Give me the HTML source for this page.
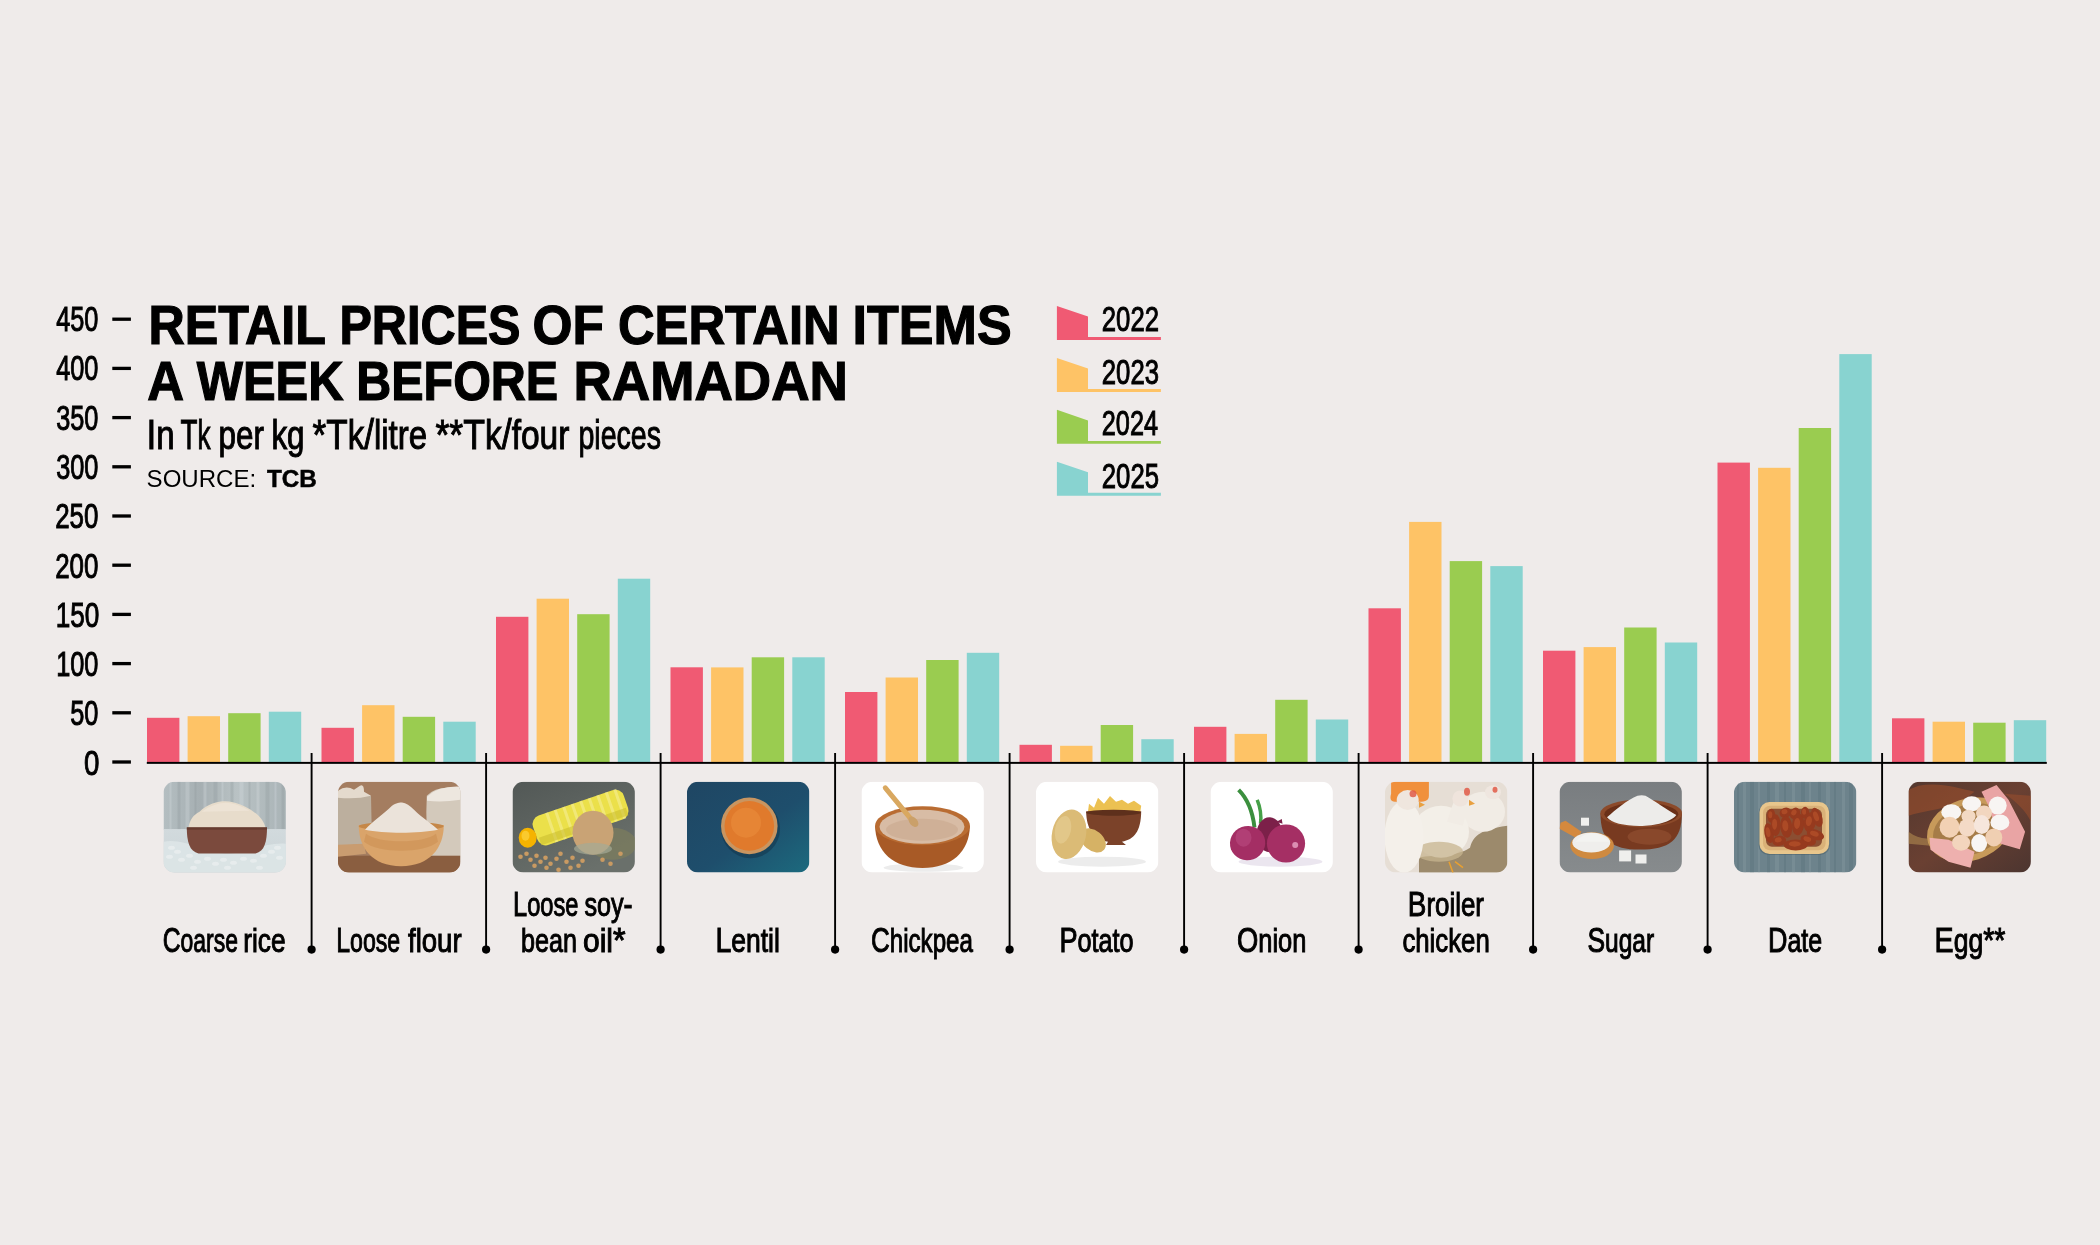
<!DOCTYPE html><html><head><meta charset="utf-8"><title>Retail prices of certain items a week before Ramadan</title><style>
html,body{margin:0;padding:0;background:#efebea;overflow:hidden;}svg{display:block;will-change:transform;}text{font-family:"Liberation Sans", sans-serif;fill:#000;}
</style></head><body>
<svg width="2100" height="1245" viewBox="0 0 2100 1245">
<rect x="0" y="0" width="2100" height="1245" fill="#efebea"/>
<rect x="112.3" y="760.35" width="18.6" height="3.3" fill="#000"/>
<rect x="112.3" y="711.15" width="18.6" height="3.3" fill="#000"/>
<rect x="112.3" y="661.95" width="18.6" height="3.3" fill="#000"/>
<rect x="112.3" y="612.75" width="18.6" height="3.3" fill="#000"/>
<rect x="112.3" y="563.55" width="18.6" height="3.3" fill="#000"/>
<rect x="112.3" y="514.35" width="18.6" height="3.3" fill="#000"/>
<rect x="112.3" y="465.15" width="18.6" height="3.3" fill="#000"/>
<rect x="112.3" y="415.95" width="18.6" height="3.3" fill="#000"/>
<rect x="112.3" y="366.75" width="18.6" height="3.3" fill="#000"/>
<rect x="112.3" y="317.55" width="18.6" height="3.3" fill="#000"/>
<rect x="147.0" y="717.8" width="32.4" height="45.2" fill="#f05a73"/>
<rect x="187.6" y="716.2" width="32.4" height="46.8" fill="#fec366"/>
<rect x="228.2" y="713.2" width="32.4" height="49.8" fill="#9acc50"/>
<rect x="268.8" y="711.7" width="32.4" height="51.3" fill="#88d3d0"/>
<rect x="321.5" y="727.8" width="32.4" height="35.2" fill="#f05a73"/>
<rect x="362.1" y="705.2" width="32.4" height="57.8" fill="#fec366"/>
<rect x="402.7" y="716.8" width="32.4" height="46.2" fill="#9acc50"/>
<rect x="443.3" y="721.7" width="32.4" height="41.3" fill="#88d3d0"/>
<rect x="496.0" y="616.8" width="32.4" height="146.2" fill="#f05a73"/>
<rect x="536.6" y="598.7" width="32.4" height="164.3" fill="#fec366"/>
<rect x="577.2" y="614.2" width="32.4" height="148.8" fill="#9acc50"/>
<rect x="617.8" y="578.7" width="32.4" height="184.3" fill="#88d3d0"/>
<rect x="670.5" y="667.3" width="32.4" height="95.7" fill="#f05a73"/>
<rect x="711.1" y="667.4" width="32.4" height="95.6" fill="#fec366"/>
<rect x="751.7" y="657.3" width="32.4" height="105.7" fill="#9acc50"/>
<rect x="792.3" y="657.3" width="32.4" height="105.7" fill="#88d3d0"/>
<rect x="845.0" y="692.0" width="32.4" height="71.0" fill="#f05a73"/>
<rect x="885.6" y="677.5" width="32.4" height="85.5" fill="#fec366"/>
<rect x="926.2" y="660.0" width="32.4" height="103.0" fill="#9acc50"/>
<rect x="966.8" y="652.8" width="32.4" height="110.2" fill="#88d3d0"/>
<rect x="1019.5" y="744.8" width="32.4" height="18.2" fill="#f05a73"/>
<rect x="1060.1" y="745.8" width="32.4" height="17.2" fill="#fec366"/>
<rect x="1100.7" y="725.0" width="32.4" height="38.0" fill="#9acc50"/>
<rect x="1141.3" y="739.2" width="32.4" height="23.8" fill="#88d3d0"/>
<rect x="1194.0" y="726.8" width="32.4" height="36.2" fill="#f05a73"/>
<rect x="1234.6" y="733.9" width="32.4" height="29.1" fill="#fec366"/>
<rect x="1275.2" y="699.8" width="32.4" height="63.2" fill="#9acc50"/>
<rect x="1315.8" y="719.5" width="32.4" height="43.5" fill="#88d3d0"/>
<rect x="1368.5" y="608.3" width="32.4" height="154.7" fill="#f05a73"/>
<rect x="1409.1" y="521.9" width="32.4" height="241.1" fill="#fec366"/>
<rect x="1449.7" y="561.1" width="32.4" height="201.9" fill="#9acc50"/>
<rect x="1490.3" y="566.1" width="32.4" height="196.9" fill="#88d3d0"/>
<rect x="1543.0" y="650.7" width="32.4" height="112.3" fill="#f05a73"/>
<rect x="1583.6" y="647.1" width="32.4" height="115.9" fill="#fec366"/>
<rect x="1624.2" y="627.5" width="32.4" height="135.5" fill="#9acc50"/>
<rect x="1664.8" y="642.5" width="32.4" height="120.5" fill="#88d3d0"/>
<rect x="1717.5" y="462.6" width="32.4" height="300.4" fill="#f05a73"/>
<rect x="1758.1" y="467.8" width="32.4" height="295.2" fill="#fec366"/>
<rect x="1798.7" y="428.0" width="32.4" height="335.0" fill="#9acc50"/>
<rect x="1839.3" y="354.1" width="32.4" height="408.9" fill="#88d3d0"/>
<rect x="1892.0" y="718.3" width="32.4" height="44.7" fill="#f05a73"/>
<rect x="1932.6" y="721.7" width="32.4" height="41.3" fill="#fec366"/>
<rect x="1973.2" y="722.7" width="32.4" height="40.3" fill="#9acc50"/>
<rect x="2013.8" y="720.2" width="32.4" height="42.8" fill="#88d3d0"/>
<rect x="146.8" y="761.9" width="1900" height="1.95" fill="#000"/>
<rect x="310.65" y="753" width="1.9" height="196" fill="#000"/>
<circle cx="311.6" cy="949.6" r="4.1" fill="#000"/>
<rect x="485.15" y="753" width="1.9" height="196" fill="#000"/>
<circle cx="486.1" cy="949.6" r="4.1" fill="#000"/>
<rect x="659.65" y="753" width="1.9" height="196" fill="#000"/>
<circle cx="660.6" cy="949.6" r="4.1" fill="#000"/>
<rect x="834.15" y="753" width="1.9" height="196" fill="#000"/>
<circle cx="835.1" cy="949.6" r="4.1" fill="#000"/>
<rect x="1008.65" y="753" width="1.9" height="196" fill="#000"/>
<circle cx="1009.6" cy="949.6" r="4.1" fill="#000"/>
<rect x="1183.15" y="753" width="1.9" height="196" fill="#000"/>
<circle cx="1184.1" cy="949.6" r="4.1" fill="#000"/>
<rect x="1357.65" y="753" width="1.9" height="196" fill="#000"/>
<circle cx="1358.6" cy="949.6" r="4.1" fill="#000"/>
<rect x="1532.15" y="753" width="1.9" height="196" fill="#000"/>
<circle cx="1533.1" cy="949.6" r="4.1" fill="#000"/>
<rect x="1706.65" y="753" width="1.9" height="196" fill="#000"/>
<circle cx="1707.6" cy="949.6" r="4.1" fill="#000"/>
<rect x="1881.15" y="753" width="1.9" height="196" fill="#000"/>
<circle cx="1882.1" cy="949.6" r="4.1" fill="#000"/>
<polygon points="1056.9,306.0 1088,316.6 1088,337.1 1160.9,337.1 1160.9,340.0 1056.9,340.0" fill="#f05a73"/>
<polygon points="1056.9,357.9 1088,368.5 1088,389.0 1160.9,389.0 1160.9,391.9 1056.9,391.9" fill="#fec366"/>
<polygon points="1056.9,409.8 1088,420.4 1088,440.9 1160.9,440.9 1160.9,443.8 1056.9,443.8" fill="#9acc50"/>
<polygon points="1056.9,461.7 1088,472.3 1088,492.8 1160.9,492.8 1160.9,495.7 1056.9,495.7" fill="#88d3d0"/>
<text x="84.00" y="774.5" font-size="35.5" textLength="15.40" lengthAdjust="spacingAndGlyphs" stroke="#000" stroke-width="1.00">0</text>
<text x="70.20" y="725.3" font-size="35.5" textLength="28.20" lengthAdjust="spacingAndGlyphs" stroke="#000" stroke-width="1.00">50</text>
<text x="56.20" y="676.0" font-size="35.5" textLength="42.20" lengthAdjust="spacingAndGlyphs" stroke="#000" stroke-width="1.00">100</text>
<text x="55.80" y="626.7" font-size="35.5" textLength="43.60" lengthAdjust="spacingAndGlyphs" stroke="#000" stroke-width="1.00">150</text>
<text x="55.20" y="577.5" font-size="35.5" textLength="43.20" lengthAdjust="spacingAndGlyphs" stroke="#000" stroke-width="1.00">200</text>
<text x="55.20" y="528.2" font-size="35.5" textLength="43.20" lengthAdjust="spacingAndGlyphs" stroke="#000" stroke-width="1.00">250</text>
<text x="56.20" y="478.9" font-size="35.5" textLength="42.20" lengthAdjust="spacingAndGlyphs" stroke="#000" stroke-width="1.00">300</text>
<text x="56.20" y="429.6" font-size="35.5" textLength="42.20" lengthAdjust="spacingAndGlyphs" stroke="#000" stroke-width="1.00">350</text>
<text x="56.20" y="380.4" font-size="35.5" textLength="42.20" lengthAdjust="spacingAndGlyphs" stroke="#000" stroke-width="1.00">400</text>
<text x="56.20" y="331.1" font-size="35.5" textLength="42.20" lengthAdjust="spacingAndGlyphs" stroke="#000" stroke-width="1.00">450</text>
<text x="148.40" y="343.6" font-size="54.8" textLength="177.60" lengthAdjust="spacingAndGlyphs" font-weight="bold" stroke="#000" stroke-width="1.20">RETAIL</text>
<text x="339.40" y="343.6" font-size="54.8" textLength="181.20" lengthAdjust="spacingAndGlyphs" font-weight="bold" stroke="#000" stroke-width="1.20">PRICES</text>
<text x="532.40" y="343.6" font-size="54.8" textLength="71.40" lengthAdjust="spacingAndGlyphs" font-weight="bold" stroke="#000" stroke-width="1.20">OF</text>
<text x="618.00" y="343.6" font-size="54.8" textLength="221.60" lengthAdjust="spacingAndGlyphs" font-weight="bold" stroke="#000" stroke-width="1.20">CERTAIN</text>
<text x="852.60" y="343.6" font-size="54.8" textLength="159.00" lengthAdjust="spacingAndGlyphs" font-weight="bold" stroke="#000" stroke-width="1.20">ITEMS</text>
<text x="147.20" y="400.3" font-size="54.8" textLength="36.80" lengthAdjust="spacingAndGlyphs" font-weight="bold" stroke="#000" stroke-width="1.20">A</text>
<text x="196.80" y="400.3" font-size="54.8" textLength="146.80" lengthAdjust="spacingAndGlyphs" font-weight="bold" stroke="#000" stroke-width="1.20">WEEK</text>
<text x="356.20" y="400.3" font-size="54.8" textLength="202.00" lengthAdjust="spacingAndGlyphs" font-weight="bold" stroke="#000" stroke-width="1.20">BEFORE</text>
<text x="573.40" y="400.3" font-size="54.8" textLength="274.60" lengthAdjust="spacingAndGlyphs" font-weight="bold" stroke="#000" stroke-width="1.20">RAMADAN</text>
<text x="146.40" y="449.2" font-size="43.0" textLength="28.20" lengthAdjust="spacingAndGlyphs" stroke="#000" stroke-width="1.00">I<tspan font-size="40.42">n</tspan></text>
<text x="180.60" y="449.2" font-size="43.0" textLength="30.00" lengthAdjust="spacingAndGlyphs" stroke="#000" stroke-width="1.00">T<tspan font-size="40.42">k</tspan></text>
<text x="218.60" y="449.2" font-size="43.0" textLength="45.40" lengthAdjust="spacingAndGlyphs" stroke="#000" stroke-width="1.00"><tspan font-size="40.42">per</tspan></text>
<text x="271.40" y="449.2" font-size="43.0" textLength="33.20" lengthAdjust="spacingAndGlyphs" stroke="#000" stroke-width="1.00"><tspan font-size="40.42">kg</tspan></text>
<text x="312.60" y="449.2" font-size="43.0" textLength="114.40" lengthAdjust="spacingAndGlyphs" stroke="#000" stroke-width="1.00">*T<tspan font-size="40.42">k</tspan>/<tspan font-size="40.42">litre</tspan></text>
<text x="435.40" y="449.2" font-size="43.0" textLength="134.00" lengthAdjust="spacingAndGlyphs" stroke="#000" stroke-width="1.00">**T<tspan font-size="40.42">k</tspan>/<tspan font-size="40.42">four</tspan></text>
<text x="578.40" y="449.2" font-size="43.0" textLength="82.60" lengthAdjust="spacingAndGlyphs" stroke="#000" stroke-width="1.00"><tspan font-size="40.42">pieces</tspan></text>
<text x="146.60" y="486.6" font-size="23.5" textLength="109.60" lengthAdjust="spacingAndGlyphs">SOURCE:</text>
<text x="267.00" y="486.6" font-size="23.5" textLength="49.80" lengthAdjust="spacingAndGlyphs" font-weight="bold" stroke="#000" stroke-width="0.50">TCB</text>
<text x="1101.80" y="331.4" font-size="35.0" textLength="57.20" lengthAdjust="spacingAndGlyphs" stroke="#000" stroke-width="1.00">2022</text>
<text x="1101.80" y="383.7" font-size="35.0" textLength="57.20" lengthAdjust="spacingAndGlyphs" stroke="#000" stroke-width="1.00">2023</text>
<text x="1101.80" y="435.3" font-size="35.0" textLength="56.20" lengthAdjust="spacingAndGlyphs" stroke="#000" stroke-width="1.00">2024</text>
<text x="1101.80" y="487.5" font-size="35.0" textLength="57.20" lengthAdjust="spacingAndGlyphs" stroke="#000" stroke-width="1.00">2025</text>
<text x="162.80" y="952.4" font-size="34.8" textLength="75.20" lengthAdjust="spacingAndGlyphs" stroke="#000" stroke-width="1.00">C<tspan font-size="32.36">oarse</tspan></text>
<text x="243.20" y="952.4" font-size="34.8" textLength="42.40" lengthAdjust="spacingAndGlyphs" stroke="#000" stroke-width="1.00"><tspan font-size="32.36">rice</tspan></text>
<text x="336.20" y="952.4" font-size="34.8" textLength="64.00" lengthAdjust="spacingAndGlyphs" stroke="#000" stroke-width="1.00">L<tspan font-size="32.36">oose</tspan></text>
<text x="408.00" y="952.4" font-size="34.8" textLength="53.60" lengthAdjust="spacingAndGlyphs" stroke="#000" stroke-width="1.00"><tspan font-size="32.36">flour</tspan></text>
<text x="513.00" y="915.8" font-size="34.8" textLength="65.40" lengthAdjust="spacingAndGlyphs" stroke="#000" stroke-width="1.00">L<tspan font-size="32.36">oose</tspan></text>
<text x="584.40" y="915.8" font-size="34.8" textLength="48.20" lengthAdjust="spacingAndGlyphs" stroke="#000" stroke-width="1.00"><tspan font-size="32.36">soy</tspan>-</text>
<text x="521.00" y="952.4" font-size="34.8" textLength="56.00" lengthAdjust="spacingAndGlyphs" stroke="#000" stroke-width="1.00"><tspan font-size="32.36">bean</tspan></text>
<text x="583.00" y="952.4" font-size="34.8" textLength="42.60" lengthAdjust="spacingAndGlyphs" stroke="#000" stroke-width="1.00"><tspan font-size="32.36">oil</tspan>*</text>
<text x="715.40" y="952.4" font-size="34.8" textLength="64.40" lengthAdjust="spacingAndGlyphs" stroke="#000" stroke-width="1.00">L<tspan font-size="32.36">entil</tspan></text>
<text x="871.00" y="952.4" font-size="34.8" textLength="102.00" lengthAdjust="spacingAndGlyphs" stroke="#000" stroke-width="1.00">C<tspan font-size="32.36">hickpea</tspan></text>
<text x="1059.40" y="952.4" font-size="34.8" textLength="74.20" lengthAdjust="spacingAndGlyphs" stroke="#000" stroke-width="1.00">P<tspan font-size="32.36">otato</tspan></text>
<text x="1237.00" y="952.4" font-size="34.8" textLength="69.40" lengthAdjust="spacingAndGlyphs" stroke="#000" stroke-width="1.00">O<tspan font-size="32.36">nion</tspan></text>
<text x="1407.80" y="915.8" font-size="34.8" textLength="76.20" lengthAdjust="spacingAndGlyphs" stroke="#000" stroke-width="1.00">B<tspan font-size="32.36">roiler</tspan></text>
<text x="1402.40" y="952.4" font-size="34.8" textLength="87.40" lengthAdjust="spacingAndGlyphs" stroke="#000" stroke-width="1.00"><tspan font-size="32.36">chicken</tspan></text>
<text x="1587.40" y="952.4" font-size="34.8" textLength="66.80" lengthAdjust="spacingAndGlyphs" stroke="#000" stroke-width="1.00">S<tspan font-size="32.36">ugar</tspan></text>
<text x="1768.00" y="952.4" font-size="34.8" textLength="54.20" lengthAdjust="spacingAndGlyphs" stroke="#000" stroke-width="1.00">D<tspan font-size="32.36">ate</tspan></text>
<text x="1934.60" y="952.4" font-size="34.8" textLength="70.80" lengthAdjust="spacingAndGlyphs" stroke="#000" stroke-width="1.00">E<tspan font-size="32.36">gg</tspan>**</text>
<defs>
<clipPath id="c0"><rect x="163.5" y="781.7" width="122.4" height="90.8" rx="11" ry="11"/></clipPath>
<clipPath id="c1"><rect x="338.0" y="781.7" width="122.4" height="90.8" rx="11" ry="11"/></clipPath>
<clipPath id="c2"><rect x="512.5" y="781.7" width="122.4" height="90.8" rx="11" ry="11"/></clipPath>
<clipPath id="c3"><rect x="687.0" y="781.7" width="122.4" height="90.8" rx="11" ry="11"/></clipPath>
<clipPath id="c4"><rect x="861.5" y="781.7" width="122.4" height="90.8" rx="11" ry="11"/></clipPath>
<clipPath id="c5"><rect x="1036.0" y="781.7" width="122.4" height="90.8" rx="11" ry="11"/></clipPath>
<clipPath id="c6"><rect x="1210.5" y="781.7" width="122.4" height="90.8" rx="11" ry="11"/></clipPath>
<clipPath id="c7"><rect x="1385.0" y="781.7" width="122.4" height="90.8" rx="11" ry="11"/></clipPath>
<clipPath id="c8"><rect x="1559.5" y="781.7" width="122.4" height="90.8" rx="11" ry="11"/></clipPath>
<clipPath id="c9"><rect x="1734.0" y="781.7" width="122.4" height="90.8" rx="11" ry="11"/></clipPath>
<clipPath id="c10"><rect x="1908.5" y="781.7" width="122.4" height="90.8" rx="11" ry="11"/></clipPath>
</defs>
<g clip-path="url(#c0)"><g transform="translate(163.5,781.7)"><defs><linearGradient id="g0a" x1="0" y1="0" x2="1" y2="0"><stop offset="0" stop-color="#b4bec1"/><stop offset="0.3" stop-color="#a6afb2"/><stop offset="0.6" stop-color="#b9c2c4"/><stop offset="1" stop-color="#aab4b7"/></linearGradient><linearGradient id="g0b" x1="0" y1="0" x2="0" y2="1"><stop offset="0" stop-color="#d2dadd"/><stop offset="1" stop-color="#c9d3d6"/></linearGradient></defs><rect x="0" y="0" width="122.4" height="48" fill="url(#g0a)" /><rect x="0" y="47.4" width="122.4" height="44" fill="url(#g0b)" /><rect x="6" y="0" width="2" height="47.4" fill="#d8dfe2" opacity="0.3"/><rect x="14" y="0" width="3" height="47.4" fill="#8e989b" opacity="0.3"/><rect x="22" y="0" width="4" height="47.4" fill="#d8dfe2" opacity="0.3"/><rect x="31" y="0" width="2" height="47.4" fill="#8e989b" opacity="0.3"/><rect x="40" y="0" width="3" height="47.4" fill="#d8dfe2" opacity="0.3"/><rect x="50" y="0" width="4" height="47.4" fill="#8e989b" opacity="0.3"/><rect x="58" y="0" width="2" height="47.4" fill="#d8dfe2" opacity="0.3"/><rect x="67" y="0" width="3" height="47.4" fill="#8e989b" opacity="0.3"/><rect x="76" y="0" width="4" height="47.4" fill="#d8dfe2" opacity="0.3"/><rect x="85" y="0" width="2" height="47.4" fill="#8e989b" opacity="0.3"/><rect x="93" y="0" width="3" height="47.4" fill="#d8dfe2" opacity="0.3"/><rect x="102" y="0" width="4" height="47.4" fill="#8e989b" opacity="0.3"/><rect x="111" y="0" width="2" height="47.4" fill="#d8dfe2" opacity="0.3"/><rect x="118" y="0" width="3" height="47.4" fill="#8e989b" opacity="0.3"/><path d="M0,60 C20,56 40,70 60,72 C80,74 100,60 122.4,62 L122.4,90.8 L0,90.8 Z" fill="#dde5e7" opacity="0.9"/><ellipse cx="8" cy="66" rx="3.5" ry="2" fill="#eef2f2" opacity="0.6"/><ellipse cx="14" cy="70" rx="3.5" ry="2" fill="#eef2f2" opacity="0.6"/><ellipse cx="6" cy="75" rx="3.5" ry="2" fill="#eef2f2" opacity="0.6"/><ellipse cx="18" cy="78" rx="3.5" ry="2" fill="#eef2f2" opacity="0.6"/><ellipse cx="26" cy="74" rx="3.5" ry="2" fill="#eef2f2" opacity="0.6"/><ellipse cx="34" cy="80" rx="3.5" ry="2" fill="#eef2f2" opacity="0.6"/><ellipse cx="44" cy="77" rx="3.5" ry="2" fill="#eef2f2" opacity="0.6"/><ellipse cx="52" cy="82" rx="3.5" ry="2" fill="#eef2f2" opacity="0.6"/><ellipse cx="60" cy="78" rx="3.5" ry="2" fill="#eef2f2" opacity="0.6"/><ellipse cx="70" cy="81" rx="3.5" ry="2" fill="#eef2f2" opacity="0.6"/><ellipse cx="80" cy="77" rx="3.5" ry="2" fill="#eef2f2" opacity="0.6"/><ellipse cx="90" cy="79" rx="3.5" ry="2" fill="#eef2f2" opacity="0.6"/><ellipse cx="100" cy="74" rx="3.5" ry="2" fill="#eef2f2" opacity="0.6"/><ellipse cx="108" cy="70" rx="3.5" ry="2" fill="#eef2f2" opacity="0.6"/><ellipse cx="114" cy="66" rx="3.5" ry="2" fill="#eef2f2" opacity="0.6"/><ellipse cx="116" cy="76" rx="3.5" ry="2" fill="#eef2f2" opacity="0.6"/><ellipse cx="30" cy="86" rx="3.5" ry="2" fill="#eef2f2" opacity="0.6"/><ellipse cx="64" cy="86" rx="3.5" ry="2" fill="#eef2f2" opacity="0.6"/><ellipse cx="96" cy="86" rx="3.5" ry="2" fill="#eef2f2" opacity="0.6"/><path d="M24.8,47 C26,38 30,33 36,30 C44,22 54,19.5 62,19.5 C72,20 82,24 90,30 C96,34 101,40 102.3,47 Z" fill="#e7dccb"/><path d="M38,30 C46,24 56,21 62,21 C70,21 80,25 86,29 Z" fill="#efe6d8" opacity="0.7"/><path d="M23.3,45.9 L103.5,45.9 C103.5,60 101,70 92,71.8 L35,71.8 C26,70 23.3,60 23.3,45.9 Z" fill="#7b4a3d"/><rect x="23.3" y="45.4" width="80.2" height="2.6" fill="#5e3429" opacity="0.7"/></g></g>
<g clip-path="url(#c1)"><g transform="translate(338.0,781.7)"><rect x="0" y="0" width="122.4" height="90.8" fill="#a47d60" /><path d="M0,12 L33,14 L34,62 L0,64 Z" fill="#bcaf9e"/><path d="M0,9 Q8,3 16,8 L22,4 Q26,2 26,10 L33,14 Q18,18 0,16 Z" fill="#e4dacd"/><path d="M88.8,14 Q96,6 110,6 L122.4,5 L122.4,76 L92,75 Q87,48 88.8,14 Z" fill="#d3c9bb"/><path d="M89,15 Q100,4 122.4,5 L122.4,18 Q104,21 89,19 Z" fill="#ede7df"/><rect x="0" y="74" width="122.4" height="17" fill="#8a5e40" /><path d="M0,63 L26,62 L28,72 L0,75 Z" fill="#c99c70"/><path d="M20.7,43.4 L105.8,43.4 C105.8,66 92,84.6 63,84.6 C34,84.6 20.7,66 20.7,43.4 Z" fill="#daa46a"/><path d="M28,52 C40,62 86,62 98,52 L100,60 C86,72 40,72 26,60 Z" fill="#c88a4c" opacity="0.45"/><ellipse cx="63.2" cy="44.5" rx="42.5" ry="4.5" fill="#c58748" /><path d="M27,48 C34,40 46,32 54,24 C58,21 62,20.7 64,20.7 C68,21 72,24 76,28 C84,36 94,42 100,48 C80,52 46,52 27,48 Z" fill="#ebe3da"/></g></g>
<g clip-path="url(#c2)"><g transform="translate(512.5,781.7)"><defs><linearGradient id="g2a" x1="0" y1="0" x2="0.6" y2="1"><stop offset="0" stop-color="#525856"/><stop offset="1" stop-color="#6a706b"/></linearGradient></defs><rect x="0" y="0" width="122.4" height="90.8" fill="url(#g2a)" /><ellipse cx="100" cy="62" rx="24" ry="16" fill="#7d7d5c" opacity="0.7"/><g transform="translate(66,36) rotate(-19)"><rect x="-46" y="-15" width="96" height="31" rx="9" fill="#ebe04a"/><rect x="-30" y="-15" width="3" height="31" fill="#f6ef9c" opacity="0.55"/><rect x="-21" y="-15" width="3" height="31" fill="#f6ef9c" opacity="0.55"/><rect x="-12" y="-15" width="3" height="31" fill="#f6ef9c" opacity="0.55"/><rect x="-3" y="-15" width="3" height="31" fill="#f6ef9c" opacity="0.55"/><rect x="6" y="-15" width="3" height="31" fill="#f6ef9c" opacity="0.55"/><rect x="15" y="-15" width="3" height="31" fill="#f6ef9c" opacity="0.55"/><rect x="24" y="-15" width="3" height="31" fill="#f6ef9c" opacity="0.55"/><rect x="33" y="-15" width="3" height="31" fill="#f6ef9c" opacity="0.55"/><rect x="42" y="-15" width="3" height="31" fill="#f6ef9c" opacity="0.55"/><rect x="-44" y="6" width="92" height="8" fill="#c9bb2e" opacity="0.55"/></g><ellipse cx="15.2" cy="56.1" rx="9" ry="10" fill="#f5b300" /><ellipse cx="13" cy="54" rx="4" ry="5" fill="#fbcf3a" opacity="0.8"/><ellipse cx="80.5" cy="51" rx="20.5" ry="22" fill="#c9a375" /><ellipse cx="80.5" cy="67" rx="19" ry="6" fill="#a4aa96" opacity="0.7"/><circle cx="8" cy="75" r="2.3" fill="#c99a62"/><circle cx="14" cy="72" r="2.3" fill="#c99a62"/><circle cx="18" cy="78" r="2.3" fill="#c99a62"/><circle cx="24" cy="74" r="2.3" fill="#c99a62"/><circle cx="28" cy="80" r="2.3" fill="#c99a62"/><circle cx="33" cy="76" r="2.3" fill="#c99a62"/><circle cx="38" cy="82" r="2.3" fill="#c99a62"/><circle cx="44" cy="77" r="2.3" fill="#c99a62"/><circle cx="48" cy="72" r="2.3" fill="#c99a62"/><circle cx="54" cy="80" r="2.3" fill="#c99a62"/><circle cx="60" cy="76" r="2.3" fill="#c99a62"/><circle cx="58" cy="86" r="2.3" fill="#c99a62"/><circle cx="66" cy="84" r="2.3" fill="#c99a62"/><circle cx="70" cy="79" r="2.3" fill="#c99a62"/><circle cx="34" cy="86" r="2.3" fill="#c99a62"/><circle cx="22" cy="84" r="2.3" fill="#c99a62"/><circle cx="90" cy="78" r="2.3" fill="#c99a62"/><circle cx="98" cy="82" r="2.3" fill="#c99a62"/><circle cx="108" cy="72" r="2.3" fill="#c99a62"/><circle cx="46" cy="88" r="2.3" fill="#c99a62"/></g></g>
<g clip-path="url(#c3)"><g transform="translate(687.0,781.7)"><defs><linearGradient id="g3a" x1="0" y1="0" x2="1" y2="1"><stop offset="0" stop-color="#1f4663"/><stop offset="0.55" stop-color="#1e4e6c"/><stop offset="1" stop-color="#1c6a7e"/></linearGradient></defs><rect x="0" y="0" width="122.4" height="90.8" fill="url(#g3a)" /><circle cx="63.5" cy="47" r="29.5" fill="#13344a" opacity="0.55"/><circle cx="62.3" cy="44.2" r="28.3" fill="#c99560"/><circle cx="62.3" cy="44.2" r="24.8" fill="#e07a2c"/><circle cx="59" cy="41" r="15" fill="#e98c3c" opacity="0.6"/></g></g>
<g clip-path="url(#c4)"><g transform="translate(861.5,781.7)"><rect x="0" y="0" width="122.4" height="90.8" fill="#ffffff" /><ellipse cx="62" cy="86" rx="40" ry="4" fill="#ececec" /><path d="M13.6,44 C14,70 32,86.3 61,86.3 C90,86.3 108,70 108.4,44 Z" fill="#a85a26"/><ellipse cx="61" cy="44" rx="47.4" ry="19.5" fill="#b96c32" /><ellipse cx="60.5" cy="45" rx="42.5" ry="17" fill="#d8bca5" /><ellipse cx="60.5" cy="48" rx="36" ry="11" fill="#c9a88e" opacity="0.6"/><line x1="23.8" y1="6.1" x2="50" y2="38" stroke="#d9a860" stroke-width="5" stroke-linecap="round"/><ellipse cx="52" cy="40" rx="6" ry="4" fill="#caa06a" transform="rotate(50 52 40)" /></g></g>
<g clip-path="url(#c5)"><g transform="translate(1036.0,781.7)"><rect x="0" y="0" width="122.4" height="90.8" fill="#ffffff" /><ellipse cx="66" cy="80" rx="44" ry="5" fill="#ececec" /><path d="M51.7,32 L53,22 L58,26 L62,16 L68,22 L74,14.4 L80,20 L86,18 L92,22 L98,19 L105.2,24 L104,32 Z" fill="#ecc152"/><path d="M50.1,29.6 L105.2,29.6 C105,50 98,58 86,60 L90,63.2 L70,63.2 L72,60 C58,58 50.5,48 50.1,29.6 Z" fill="#7b4229"/><ellipse cx="77.6" cy="31" rx="27.5" ry="3" fill="#5e301c" /><ellipse cx="57" cy="58.7" rx="14.5" ry="10" fill="#d6b265" transform="rotate(40 57 58.7)" /><ellipse cx="33" cy="52.5" rx="17" ry="25" fill="#dbbb76" transform="rotate(12 33 52.5)" /><ellipse cx="27" cy="48" rx="8" ry="14" fill="#e6cc92" transform="rotate(12 27 48)" opacity="0.7"/></g></g>
<g clip-path="url(#c6)"><g transform="translate(1210.5,781.7)"><rect x="0" y="0" width="122.4" height="90.8" fill="#ffffff" /><ellipse cx="70" cy="80" rx="42" ry="5" fill="#ebe6ef" /><path d="M28.1,8.1 C36,16 42,28 44,45.7" stroke="#3b8f3e" stroke-width="4" fill="none"/><path d="M46.7,18.1 C50,26 51,34 50,42" stroke="#46a048" stroke-width="3.5" fill="none"/><ellipse cx="59" cy="53" rx="13" ry="17.5" fill="#7c2049" /><path d="M66,40 L71.3,37.2 L72,42 Z" fill="#7c2049"/><ellipse cx="37.1" cy="61.4" rx="17.7" ry="17.1" fill="#a42e64" transform="rotate(-20 37.1 61.4)" /><ellipse cx="75.5" cy="61.8" rx="19.1" ry="19.1" fill="#a52f64" /><ellipse cx="33" cy="56" rx="8" ry="9" fill="#c0548a" opacity="0.45"/><ellipse cx="84.7" cy="63.2" rx="3" ry="3" fill="#e9a6c6" opacity="0.8"/></g></g>
<g clip-path="url(#c7)"><g transform="translate(1385.0,781.7)"><rect x="0" y="0" width="122.4" height="90.8" fill="#e6ded5" /><path d="M34,91 L34,76 C50,72 70,76 85,66 C88,56 92,48 122.4,44 L122.4,91 Z" fill="#9c8a6c"/><path d="M6.1,0 L43.9,0 L43.9,14 C44,20 38,20 32,20 L10,20 C5,20 5,16 6.1,12 Z" fill="#f0903c"/><ellipse cx="98" cy="30" rx="22" ry="20" fill="#f1ece5" /><ellipse cx="108" cy="10.5" rx="8" ry="7" fill="#efe6df" /><ellipse cx="56" cy="50" rx="28" ry="26" fill="#f3efe8" /><ellipse cx="54" cy="70" rx="24" ry="10" fill="#c7b48f" opacity="0.75"/><path d="M62,40 C66,28 68,18 75,12 L84,16 C84,26 80,34 78,44 Z" fill="#f1ece5"/><ellipse cx="75.4" cy="16.8" rx="8" ry="8" fill="#efe4dc" /><ellipse cx="19" cy="55" rx="19.5" ry="36" fill="#f4f0ea" /><ellipse cx="22.7" cy="18.3" rx="11" ry="10" fill="#efe6de" /><ellipse cx="28" cy="12" rx="3.5" ry="3.5" fill="#e05a48" opacity="0.85"/><ellipse cx="82" cy="10" rx="3" ry="4" fill="#e05a48" opacity="0.85"/><ellipse cx="110" cy="8" rx="2.5" ry="3" fill="#e05a48" opacity="0.85"/><path d="M34,20 L40,23 L34,26 Z" fill="#e8a040"/><path d="M84,18 L90,22 L84,24 Z" fill="#e8a040"/><path d="M64,80 L68,91 M70,80 L78,86" stroke="#e8a030" stroke-width="1.5"/></g></g>
<g clip-path="url(#c8)"><g transform="translate(1559.5,781.7)"><defs><linearGradient id="g8a" x1="0" y1="0" x2="0" y2="1"><stop offset="0" stop-color="#797d80"/><stop offset="1" stop-color="#878b8d"/></linearGradient></defs><rect x="0" y="0" width="122.4" height="90.8" fill="url(#g8a)" /><path d="M41,31.7 C41,58 52,67.9 80,67.9 C110,67.9 122.4,58 122.4,31.7 Z" fill="#783a20"/><ellipse cx="90" cy="55" rx="22" ry="8" fill="#9a5636" opacity="0.5"/><ellipse cx="81.8" cy="31.7" rx="41" ry="14" fill="#8c4a2a" /><ellipse cx="81.8" cy="32.5" rx="37" ry="11.5" fill="#6a3018" /><path d="M47.5,35.6 C56,28 68,18 78,14 L82.2,13.6 L86,14 C96,20 108,28 116.8,33.3 C112,40 96,44.3 80,44.3 C64,44.3 52,41 47.5,35.6 Z" fill="#edecea"/><path d="M1.1,41 L6,39 L22,50 L18,57 L0,47 Z" fill="#d4893e"/><ellipse cx="32.6" cy="64" rx="21.8" ry="13.4" fill="#cf8a40" /><ellipse cx="31.8" cy="60.8" rx="19" ry="10" fill="#efeeec" /><path d="M16,60 C22,54 28,51.4 33.4,51.4 C40,52 46,56 50,60 Z" fill="#f3f3f1"/><rect x="21.5" y="36" width="8" height="8" fill="#f0f0ee"/><rect x="59.6" y="68.7" width="12" height="11" fill="#efefed"/><rect x="76" y="72.8" width="11" height="9" fill="#efefed"/></g></g>
<g clip-path="url(#c9)"><g transform="translate(1734.0,781.7)"><rect x="0" y="0" width="122.4" height="90.8" fill="#6d838c" /><rect x="3" y="0" width="2" height="91" fill="#536c77" opacity="0.3"/><rect x="9" y="0" width="3" height="91" fill="#8ea3aa" opacity="0.3"/><rect x="16" y="0" width="4" height="91" fill="#536c77" opacity="0.3"/><rect x="24" y="0" width="2" height="91" fill="#8ea3aa" opacity="0.3"/><rect x="33" y="0" width="3" height="91" fill="#536c77" opacity="0.3"/><rect x="41" y="0" width="4" height="91" fill="#8ea3aa" opacity="0.3"/><rect x="50" y="0" width="2" height="91" fill="#536c77" opacity="0.3"/><rect x="58" y="0" width="3" height="91" fill="#8ea3aa" opacity="0.3"/><rect x="67" y="0" width="4" height="91" fill="#536c77" opacity="0.3"/><rect x="75" y="0" width="2" height="91" fill="#8ea3aa" opacity="0.3"/><rect x="84" y="0" width="3" height="91" fill="#536c77" opacity="0.3"/><rect x="92" y="0" width="4" height="91" fill="#8ea3aa" opacity="0.3"/><rect x="100" y="0" width="2" height="91" fill="#536c77" opacity="0.3"/><rect x="108" y="0" width="3" height="91" fill="#8ea3aa" opacity="0.3"/><rect x="115" y="0" width="4" height="91" fill="#536c77" opacity="0.3"/><rect x="24.5" y="21.3" width="71.6" height="52" rx="10" fill="#3f5660" opacity="0.4"/><rect x="25.5" y="20.3" width="69.6" height="51.9" rx="10" fill="#e8c68c"/><rect x="29" y="24" width="62.6" height="44.5" rx="7" fill="#d9b178"/><rect x="32" y="27" width="56" height="38" rx="6" fill="#6a2414" opacity="0.7"/><ellipse cx="35" cy="51.4" rx="4.6" ry="10" fill="#963a1e" transform="rotate(-10 35 51.4)" /><ellipse cx="34" cy="50.4" rx="2.3" ry="5" fill="#c0582e" transform="rotate(-10 34 50.4)" opacity="0.55"/><ellipse cx="37.3" cy="34" rx="4" ry="7" fill="#963a1e" /><ellipse cx="36.3" cy="33" rx="2" ry="3.5" fill="#c0582e" opacity="0.55"/><ellipse cx="41.6" cy="43.5" rx="5" ry="11" fill="#963a1e" /><ellipse cx="40.6" cy="42.5" rx="2.5" ry="5.5" fill="#c0582e" opacity="0.55"/><ellipse cx="51.5" cy="31" rx="6" ry="5" fill="#963a1e" transform="rotate(-20 51.5 31)" /><ellipse cx="50.5" cy="30" rx="3" ry="2.5" fill="#c0582e" transform="rotate(-20 50.5 30)" opacity="0.55"/><ellipse cx="52.3" cy="45.1" rx="6" ry="11" fill="#963a1e" transform="rotate(-5 52.3 45.1)" /><ellipse cx="51.3" cy="44.1" rx="3" ry="5.5" fill="#c0582e" transform="rotate(-5 51.3 44.1)" opacity="0.55"/><ellipse cx="60.9" cy="31.7" rx="5" ry="6" fill="#963a1e" transform="rotate(30 60.9 31.7)" /><ellipse cx="59.9" cy="30.7" rx="2.5" ry="3" fill="#c0582e" transform="rotate(30 59.9 30.7)" opacity="0.55"/><ellipse cx="64.1" cy="42.7" rx="6" ry="11" fill="#963a1e" transform="rotate(5 64.1 42.7)" /><ellipse cx="63.1" cy="41.7" rx="3" ry="5.5" fill="#c0582e" transform="rotate(5 63.1 41.7)" opacity="0.55"/><ellipse cx="71.1" cy="31" rx="4" ry="6" fill="#963a1e" /><ellipse cx="70.1" cy="30" rx="2" ry="3" fill="#c0582e" opacity="0.55"/><ellipse cx="75.9" cy="40.4" rx="6" ry="10" fill="#963a1e" transform="rotate(10 75.9 40.4)" /><ellipse cx="74.9" cy="39.4" rx="3" ry="5" fill="#c0582e" transform="rotate(10 74.9 39.4)" opacity="0.55"/><ellipse cx="83" cy="35.6" rx="5" ry="10" fill="#963a1e" transform="rotate(-20 83 35.6)" /><ellipse cx="82" cy="34.6" rx="2.5" ry="5" fill="#c0582e" transform="rotate(-20 82 34.6)" opacity="0.55"/><ellipse cx="81.4" cy="53" rx="9" ry="5" fill="#963a1e" transform="rotate(20 81.4 53)" /><ellipse cx="80.4" cy="52" rx="4.5" ry="2.5" fill="#c0582e" transform="rotate(20 80.4 52)" opacity="0.55"/><ellipse cx="74.3" cy="58.5" rx="8" ry="5" fill="#963a1e" transform="rotate(20 74.3 58.5)" /><ellipse cx="73.3" cy="57.5" rx="4" ry="2.5" fill="#c0582e" transform="rotate(20 73.3 57.5)" opacity="0.55"/><ellipse cx="61.7" cy="63.2" rx="12" ry="5.5" fill="#963a1e" /><ellipse cx="60.7" cy="62.2" rx="6" ry="2.75" fill="#c0582e" opacity="0.55"/><ellipse cx="45.2" cy="59.2" rx="7" ry="5" fill="#963a1e" transform="rotate(-10 45.2 59.2)" /><ellipse cx="44.2" cy="58.2" rx="3.5" ry="2.5" fill="#c0582e" transform="rotate(-10 44.2 58.2)" opacity="0.55"/></g></g>
<g clip-path="url(#c10)"><g transform="translate(1908.5,781.7)"><defs><linearGradient id="gaa" x1="0" y1="0" x2="1" y2="1"><stop offset="0" stop-color="#54382f"/><stop offset="0.5" stop-color="#6a4032"/><stop offset="1" stop-color="#4c3530"/></linearGradient></defs><rect x="0" y="0" width="122.4" height="90.8" fill="url(#gaa)" /><path d="M10,4 C30,0 50,6 66,10 L50,22 C30,28 12,30 0,34 L0,8 Z" fill="#a0502c" opacity="0.55"/><path d="M96,12 C108,20 118,30 122.4,40 L122.4,14 Z" fill="#a0502c" opacity="0.5"/><path d="M0,50 C8,56 16,58 24,56 L22,64 L0,62 Z" fill="#b08a50" opacity="0.6"/><ellipse cx="60.5" cy="48" rx="43" ry="31" fill="#c79a5a" transform="rotate(-18 60.5 48)" /><ellipse cx="60.5" cy="48" rx="37" ry="25" fill="#a67c48" transform="rotate(-18 60.5 48)" /><path d="M73,10 L88,3.3 L100,18 L116.6,50 L111.3,67.6 L92,62 L80,24 Z" fill="#e9a4a4"/><path d="M21,56 L40,58 L66,70 L62,86 L40,80 L22,68 Z" fill="#eeb0ae"/><ellipse cx="42.8" cy="30.5" rx="10" ry="8" fill="#f8f5f3" /><ellipse cx="63.2" cy="22.1" rx="9.5" ry="7.5" fill="#f8f5f3" /><ellipse cx="89.2" cy="23.9" rx="9" ry="9" fill="#f8f5f3" /><ellipse cx="60" cy="34.5" rx="7" ry="6.5" fill="#f3d9c3" /><ellipse cx="75.5" cy="31.4" rx="8" ry="7.5" fill="#f2d6bf" /><ellipse cx="41.1" cy="45.5" rx="10" ry="10.5" fill="#f2d1b4" /><ellipse cx="58.7" cy="46" rx="8.5" ry="9" fill="#f4dac6" /><ellipse cx="73.3" cy="42.9" rx="8" ry="9.5" fill="#f6e6dc" /><ellipse cx="91.4" cy="40.7" rx="9.5" ry="8" fill="#f8f5f3" /><ellipse cx="52.6" cy="61" rx="9" ry="8" fill="#f3d5bd" /><ellipse cx="70.7" cy="61.4" rx="8" ry="9" fill="#f8f5f3" /><ellipse cx="85.3" cy="55.7" rx="8.5" ry="9" fill="#f0cfb2" /></g></g>
</svg></body></html>
